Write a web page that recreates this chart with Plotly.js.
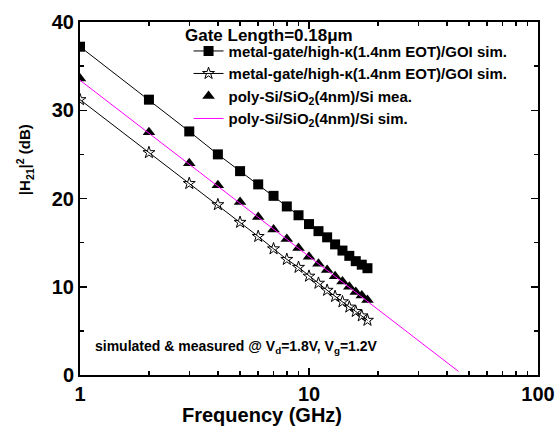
<!DOCTYPE html>
<html>
<head>
<meta charset="utf-8">
<script src="https://cdn.plot.ly/plotly-3.0.1.min.js"></script>
<style>html,body{margin:0;padding:0;background:#fff}#chart{width:557px;height:427px}</style>
</head>
<body>
<div id="chart"></div>
<script>
// Frequencies (GHz)
const freq = [1,2,3,4,5,6,7,8,9,10,11,12,13,14,15,16,17,18];
// metal-gate/high-k GOI sim. (squares)
const goiSimSquare = [37.2,31.2,27.6,25.0,23.1,21.6,20.3,19.1,18.1,17.1,16.3,15.6,14.8,14.1,13.5,12.9,12.5,12.1];
// metal-gate/high-k GOI sim. (stars)
const goiSimStar = [31.2,25.2,21.7,19.3,17.3,15.7,14.3,13.1,12.2,11.2,10.4,9.6,8.9,8.3,7.7,7.2,6.7,6.2];
// poly-Si/SiO2/Si measured (triangles)
const polyMea = [33.6,27.5,24.0,21.5,19.6,17.9,16.5,15.4,14.4,13.4,12.6,11.9,11.2,10.6,10.0,9.4,9.0,8.5];
// poly-Si/SiO2/Si simulated (magenta line)
const polySimFreq = [1,2,5,10,20,45];
const polySim = [33.4,27.4,19.4,13.4,7.4,0.4];

const names = [
  'metal-gate/high-κ(1.4nm EOT)/GOI sim.',
  'metal-gate/high-κ(1.4nm EOT)/GOI sim.',
  'poly-Si/SiO<sub>2</sub>(4nm)/Si mea.',
  'poly-Si/SiO<sub>2</sub>(4nm)/Si sim.'
];
const legendTitle = 'Gate Length=0.18μm';
const xTitle = 'Frequency (GHz)';
const yTitle = '|H<sub>21</sub>|<sup>2</sup> (dB)';
const noteText = 'simulated & measured @ V<sub>d</sub>=1.8V, V<sub>g</sub>=1.2V';

const FONT = 'Liberation Sans, Arial, sans-serif';

const traces = [
  {x: freq, y: goiSimSquare, name: names[0], mode: 'lines+markers', type: 'scatter',
   line: {color: '#000', width: 1}, marker: {symbol: 'square', size: 10, color: '#000'}},
  {x: freq, y: goiSimStar, name: names[1], mode: 'lines+markers', type: 'scatter',
   line: {color: '#000', width: 1}, marker: {symbol: 'star-open', size: 9, color: '#000', line: {width: 1}}},
  {x: freq, y: polyMea, name: names[2], mode: 'markers', type: 'scatter',
   marker: {symbol: 'triangle-up', size: 11, color: '#000'}},
  {x: polySimFreq, y: polySim, name: names[3], mode: 'lines', type: 'scatter',
   line: {color: '#ff00ff', width: 1}}
];

const layout = {
  width: 557, height: 427,
  margin: {l: 80, r: 19, t: 22, b: 52},
  paper_bgcolor: '#fff', plot_bgcolor: '#fff',
  font: {family: FONT, color: '#000', weight: 'bold'},
  showlegend: true,
  legend: {
    x: 0.237, y: 0.964, xanchor: 'left', yanchor: 'top',
    bgcolor: 'rgba(0,0,0,0)', borderwidth: 0,
    font: {family: FONT, size: 15, color: '#000', weight: 'bold'},
    tracegroupgap: 0
  },
  xaxis: {
    type: 'log', range: [0, 2], dtick: 1,
    ticks: 'inside', ticklen: 7, tickwidth: 1.5, tickcolor: '#000',
    showline: true, linecolor: '#000', linewidth: 2, mirror: 'ticks',
    showgrid: false, zeroline: false,
    tickfont: {family: FONT, size: 20, weight: 'bold'},
    minor: {ticks: 'inside', ticklen: 4, tickcolor: '#000', dtick: 'D1', showgrid: false}
  },
  yaxis: {
    range: [0, 40], dtick: 10,
    ticks: 'inside', ticklen: 7, tickwidth: 1.5, tickcolor: '#000',
    showline: true, linecolor: '#000', linewidth: 2, mirror: 'ticks',
    showgrid: false, zeroline: false,
    tickfont: {family: FONT, size: 20, weight: 'bold'},
    minor: {ticks: 'inside', ticklen: 4, tickcolor: '#000', dtick: 5, showgrid: false}
  },
  annotations: [
    {xref: 'paper', yref: 'paper', x: 0.224, y: 0.961, xanchor: 'left', yanchor: 'middle',
     text: legendTitle, showarrow: false, font: {family: FONT, size: 17, weight: 'bold', color: '#000'}},
    {xref: 'paper', yref: 'paper', x: 0.028, y: 0.08, xanchor: 'left', yanchor: 'middle',
     text: noteText, showarrow: false, font: {family: FONT, size: 14, weight: 'bold', color: '#000'}},
    {xref: 'paper', yref: 'paper', x: 0.397, y: -0.112, xanchor: 'center', yanchor: 'middle',
     text: xTitle, showarrow: false, font: {family: FONT, size: 20, weight: 'bold', color: '#000'}},
    {xref: 'paper', yref: 'paper', x: -0.122, y: 0.609, xanchor: 'center', yanchor: 'middle',
     text: yTitle, textangle: -90, showarrow: false, font: {family: FONT, size: 15, weight: 'bold', color: '#000'}}
  ]
};

Plotly.newPlot('chart', traces, layout, {displayModeBar: false, staticPlot: true});
</script>
</body>
</html>
